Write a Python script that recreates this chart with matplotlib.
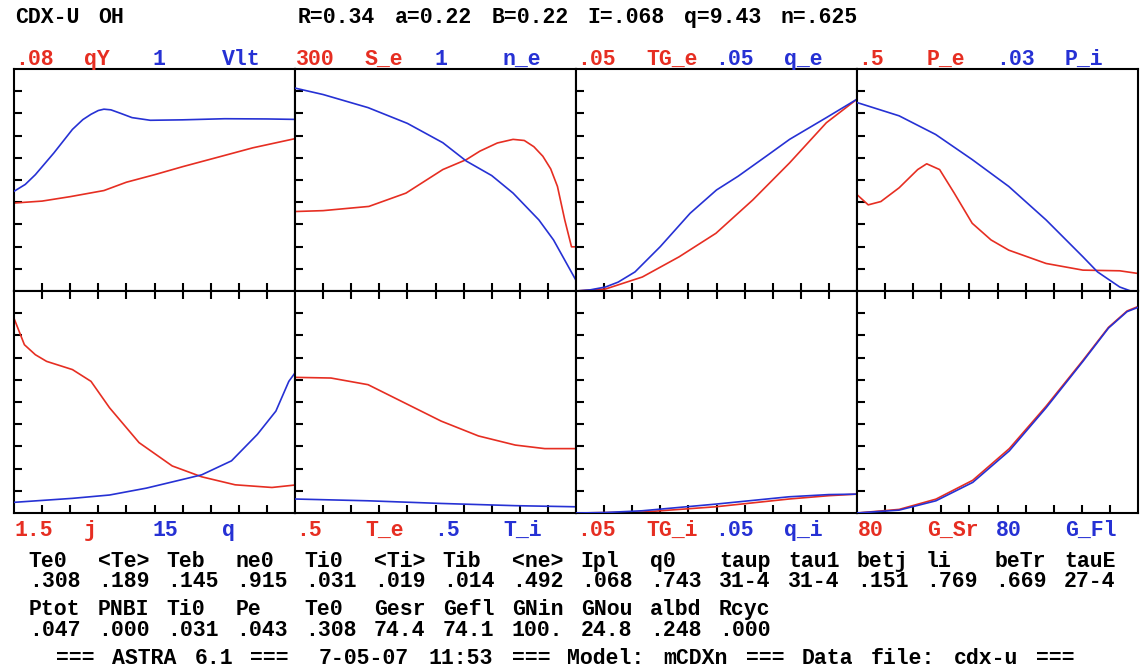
import re
import matplotlib.pyplot as plt

RED = '#e62e22'
BLUE = '#2631d4'
W, H = 1144, 669

# ---- profile data (rho from 0 to 1), physical units ----
# top row
qY_x = [0, 0.1, 0.2, 0.32, 0.4, 0.5, 0.6, 0.74, 0.85, 1.0]
qY = [0.0317, 0.0324, 0.034, 0.0362, 0.0392, 0.0419, 0.0448, 0.0486, 0.0516, 0.0549]
Vlt_x = [0, 0.04, 0.076, 0.142, 0.208, 0.245, 0.274, 0.3, 0.32, 0.345, 0.38, 0.42, 0.485, 0.6, 0.75, 0.9, 1.0]
Vlt = [0.449, 0.48, 0.524, 0.622, 0.728, 0.772, 0.796, 0.813, 0.819, 0.816, 0.8, 0.781, 0.769, 0.771, 0.776, 0.775, 0.773]

S_e_x = [0, 0.1, 0.263, 0.395, 0.526, 0.61, 0.658, 0.72, 0.776, 0.816, 0.85, 0.882, 0.91, 0.934, 0.96, 0.984, 1.0]
S_e = [107.4, 108.6, 114.3, 132.3, 164.1, 177.6, 189, 200, 204.9, 203.4, 195, 182.1, 165, 141.3, 96, 59.7, 59.7]
n_e_x = [0, 0.1, 0.26, 0.4, 0.526, 0.61, 0.7, 0.776, 0.868, 0.92, 0.96, 1.0]
n_e = [0.914, 0.885, 0.826, 0.755, 0.668, 0.585, 0.52, 0.441, 0.32, 0.23, 0.139, 0.048]

TG_e_x = [0, 0.105, 0.236, 0.367, 0.498, 0.629, 0.76, 0.891, 1.0]
TG_e = [0, 0.00045, 0.00315, 0.0077, 0.013, 0.0205, 0.02885, 0.0379, 0.0432]
q_e_x = [0, 0.05, 0.105, 0.15, 0.21, 0.3, 0.406, 0.5, 0.577, 0.68, 0.76, 0.891, 1.0]
q_e = [0, 0.00025, 0.0009, 0.002, 0.0043, 0.01, 0.0175, 0.02275, 0.02585, 0.0305, 0.03415, 0.03905, 0.0432]

P_e_x = [0, 0.04, 0.085, 0.15, 0.216, 0.248, 0.294, 0.346, 0.41, 0.477, 0.54, 0.673, 0.804, 0.935, 1.0]
P_e = [0.217, 0.194, 0.2015, 0.2325, 0.2735, 0.2865, 0.2735, 0.2205, 0.1525, 0.115, 0.092, 0.062, 0.047, 0.0455, 0.0395]
P_i_x = [0, 0.15, 0.28, 0.41, 0.54, 0.673, 0.804, 0.856, 0.935, 1.0]
P_i = [0.02547, 0.02367, 0.02115, 0.01776, 0.01413, 0.0096, 0.00462, 0.00258, 0.00054, -0.00036]

# bottom row
j_x = [0, 0.037, 0.076, 0.116, 0.208, 0.274, 0.34, 0.445, 0.563, 0.668, 0.787, 0.918, 1.0]
j = [1.3155, 1.137, 1.0695, 1.0245, 0.969, 0.8895, 0.711, 0.4755, 0.318, 0.2445, 0.1905, 0.1725, 0.189]
q_x = [0, 0.208, 0.34, 0.471, 0.603, 0.668, 0.774, 0.866, 0.932, 0.978, 1.0]
q = [0.72, 0.99, 1.215, 1.68, 2.28, 2.58, 3.525, 5.31, 6.885, 8.895, 9.465]

T_e_x = [0, 0.128, 0.26, 0.39, 0.52, 0.653, 0.784, 0.889, 1.0]
T_e = [0.3055, 0.304, 0.289, 0.248, 0.207, 0.1735, 0.153, 0.145, 0.145]
T_i_x = [0, 0.26, 0.52, 0.784, 1.0]
T_i = [0.0315, 0.0275, 0.0215, 0.0165, 0.014]

TG_i_x = [0, 0.235, 0.497, 0.758, 0.9, 1.0]
TG_i = [0, 0.0002, 0.0014, 0.00315, 0.0039, 0.00425]
q_i_x = [0, 0.1, 0.235, 0.497, 0.758, 0.9, 1.0]
q_i = [0, 0.0001, 0.0005, 0.002, 0.00365, 0.00415, 0.00425]

G_x = [0, 0.15, 0.281, 0.412, 0.542, 0.673, 0.804, 0.895, 0.961, 1.0]
G_Sr = [0, 1.3, 5.0, 11.8, 23.2, 38.5, 55.0, 66.9, 72.8, 74.4]
G_Fl = [0, 1.04, 4.4, 11.04, 22.4, 37.92, 54.64, 66.64, 72.56, 74.1]

# panel labels: red scale, red name, blue scale, blue name
top_labels = [('.08', 'qY', '1', 'Vlt'), ('300', 'S_e', '1', 'n_e'),
              ('.05', 'TG_e', '.05', 'q_e'), ('.5', 'P_e', '.03', 'P_i')]
bot_labels = [('1.5', 'j', '15', 'q'), ('.5', 'T_e', '.5', 'T_i'),
              ('.05', 'TG_i', '.05', 'q_i'), ('80', 'G_Sr', '80', 'G_Fl')]
top_red = [(qY_x, qY, 0.08), (S_e_x, S_e, 300), (TG_e_x, TG_e, 0.05), (P_e_x, P_e, 0.5)]
top_blue = [(Vlt_x, Vlt, 1), (n_e_x, n_e, 1), (q_e_x, q_e, 0.05), (P_i_x, P_i, 0.03)]
bot_red = [(j_x, j, 1.5), (T_e_x, T_e, 0.5), (TG_i_x, TG_i, 0.05), (G_x, G_Sr, 80)]
bot_blue = [(q_x, q, 15), (T_i_x, T_i, 0.5), (q_i_x, q_i, 0.05), (G_x, G_Fl, 80)]

# summary table
names1 = ['Te0', '<Te>', 'Teb', 'ne0', 'Ti0', '<Ti>', 'Tib', '<ne>', 'Ipl', 'q0',
          'taup', 'tau1', 'betj', 'li', 'beTr', 'tauE']
vals1 = ['.308', '.189', '.145', '.915', '.031', '.019', '.014', '.492', '.068', '.743',
         '31-4', '31-4', '.151', '.769', '.669', '27-4']
names2 = ['Ptot', 'PNBI', 'Ti0', 'Pe', 'Te0', 'Gesr', 'Gefl', 'GNin', 'GNou', 'albd', 'Rcyc']
vals2 = ['.047', '.000', '.031', '.043', '.308', '74.4', '74.1', '100.', '24.8', '.248', '.000']

title = 'CDX-U OH'
params = 'R=0.34 a=0.22 B=0.22 I=.068 q=9.43 n=.625'
footer = '=== ASTRA 6.1 ===  7-05-07 11:53 === Model: mCDXn === Data file: cdx-u ==='

# ---- layout in pixels ----
col_x = [14, 295, 576, 857]
col_w = 281
row_top = [69, 291]
row_h = 222
cw = 13.8  # monospace cell width of the original
FONT = dict(family='Liberation Mono', weight='bold', size=15.5)

fig = plt.figure(figsize=(W / 100, H / 100), dpi=100)


def ftext(x, y, s, color='black'):
    fig.text(x / W, 1 - y / H, s, color=color, ha='left', va='baseline', **FONT)


def grid_line(x0, y, line, color='black'):
    # put every word on the character grid of the original screen
    for m in re.finditer(r'\S+', line):
        ftext(x0 + m.start() * cw + 1, y, m.group(), color)


def panel(r, c, red, blue):
    ax = fig.add_axes([col_x[c] / W, 1 - (row_top[r] + row_h) / H, col_w / W, row_h / H])
    ax.plot(red[0], red[1], color=RED, lw=1.2)
    ax.set_xlim(0, 1)
    ax.set_ylim(0, red[2])
    ax.set_xticks([k / 10 for k in range(1, 10)])
    ax.set_yticks([red[2] * k / 10 for k in range(1, 10)])
    ax.tick_params(direction='in', length=6, width=1.5, left=True, right=True,
                   top=(r == 1), bottom=True, labelleft=False, labelbottom=False)
    for sp in ax.spines.values():
        sp.set_linewidth(1.5)
    ax2 = ax.twinx()
    ax2.plot(blue[0], blue[1], color=BLUE, lw=1.2)
    ax2.set_ylim(0, blue[2])
    ax2.set_yticks([])
    for sp in ax2.spines.values():
        sp.set_visible(False)


for c in range(4):
    panel(0, c, top_red[c], top_blue[c])
    panel(1, c, bot_red[c], bot_blue[c])
    for labels, y in ((top_labels[c], 65), (bot_labels[c], 536)):
        for k, (s, col) in enumerate(zip(labels, [RED, RED, BLUE, BLUE])):
            ftext(col_x[c] + 5 * k * cw + 1, y, s, col)

grid_line(14, 23, title)
grid_line(297, 23, params)
grid_line(14 + cw, 567, ' '.join(s.ljust(4) for s in names1))
grid_line(14 + cw, 587, ' '.join(vals1))
grid_line(14 + cw, 615, ' '.join(s.ljust(4) for s in names2))
grid_line(14 + cw, 636, ' '.join(vals2))
grid_line(14 + 3 * cw, 664, footer)

fig.savefig('out.png', dpi=100)
